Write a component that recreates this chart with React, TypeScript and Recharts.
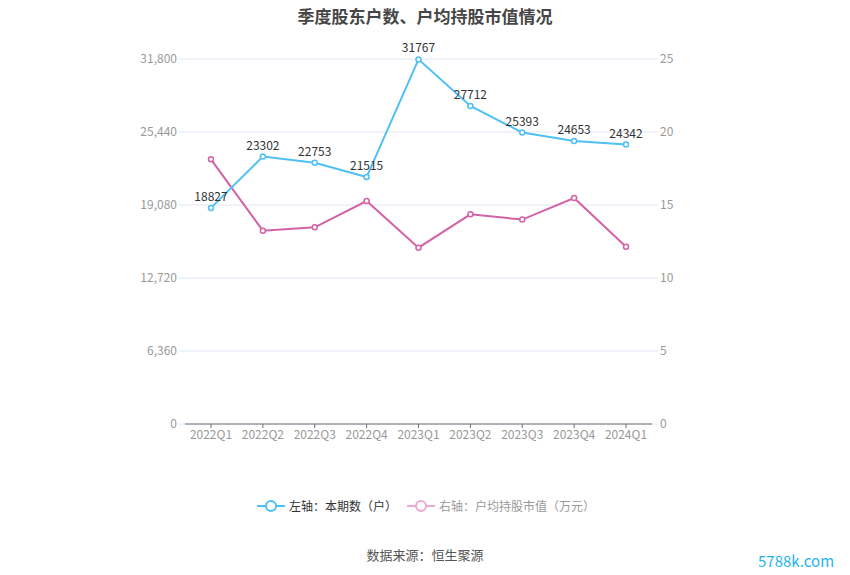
import React from 'react';
import { LineChart, Line, XAxis, YAxis, CartesianGrid, LabelList } from 'recharts';

const quarters = ['2022Q1', '2022Q2', '2022Q3', '2022Q4', '2023Q1', '2023Q2', '2023Q3', '2023Q4', '2024Q1'];
const holders = [18827, 23302, 22753, 21515, 31767, 27712, 25393, 24653, 24342];
const avgValue = [18.13, 13.24, 13.47, 15.27, 12.08, 14.36, 14.0, 15.48, 12.14];
const leftTicks = [0, 6360, 12720, 19080, 25440, 31800];
const rightTicks = [0, 5, 10, 15, 20, 25];

const data = quarters.map((q, i) => ({ q, holders: holders[i], avg: avgValue[i] }));

const BLUE = '#4fc0f5';
const PINK = '#d462a6';
const FONT = '"Microsoft YaHei", "Noto Sans CJK SC", sans-serif';

const fmt = (v: number) => v.toLocaleString('en-US');

export default function App() {
  return (
    <div style={{ position: 'absolute', left: 0, top: 0, width: 850, height: 575, fontFamily: FONT, background: '#fff' }}>
      <div style={{ position: 'absolute', top: 3, left: 0, width: 850, textAlign: 'center', fontSize: 17, fontWeight: 'bold', color: '#464646' }}>
        季度股东户数、户均持股市值情况
      </div>
      <LineChart width={850} height={575} data={data} margin={{ top: 59, right: 0, bottom: 121, left: 0 }}>
        <CartesianGrid vertical={false} stroke="#e0e6f1" yAxisId="left" />
        <XAxis
          dataKey="q"
          axisLine={{ stroke: '#6e7079' }}
          tickLine={{ stroke: '#6e7079' }}
          tickSize={4}
          height={30}
          interval={0}
          padding={{ left: 26, right: 26 }}
          tick={{ fill: '#999', fontSize: 12, fontFamily: FONT }}
        />
        <YAxis
          yAxisId="left"
          width={185}
          domain={[0, 31800]}
          ticks={leftTicks}
          tickFormatter={fmt}
          axisLine={false}
          tickLine={{ stroke: '#e0e6f1' }}
          tickSize={6}
          tick={{ fill: '#999', fontSize: 12, fontFamily: FONT }}
        />
        <YAxis
          yAxisId="right"
          orientation="right"
          width={198}
          domain={[0, 25]}
          ticks={rightTicks}
          axisLine={false}
          tickLine={{ stroke: '#e0e6f1' }}
          tickSize={6}
          tick={{ fill: '#999', fontSize: 12, fontFamily: FONT }}
        />
        <Line
          yAxisId="right"
          dataKey="avg"
          stroke={PINK}
          strokeWidth={2}
          dot={{ r: 2.5, fill: '#fff', stroke: PINK, strokeWidth: 1.5 }}
          isAnimationActive={false}
        />
        <Line
          yAxisId="left"
          dataKey="holders"
          stroke={BLUE}
          strokeWidth={2}
          dot={{ r: 2.5, fill: '#fff', stroke: BLUE, strokeWidth: 1.5 }}
          isAnimationActive={false}
        >
          <LabelList dataKey="holders" position="top" offset={7} fill="#333" fontSize={12} fontFamily={FONT} />
        </Line>
      </LineChart>
      <div style={{ position: 'absolute', top: 497, left: 0, width: 850, height: 20, fontSize: 12, color: '#333' }}>
        <svg style={{ position: 'absolute', left: 257, top: 1 }} width={28} height={16}>
          <line x1={0} y1={8} x2={28} y2={8} stroke={BLUE} strokeWidth={2} />
          <circle cx={14} cy={8} r={5} fill="#fff" stroke={BLUE} strokeWidth={2} />
        </svg>
        <span style={{ position: 'absolute', left: 289, top: 0 }}>左轴：本期数（户）</span>
        <svg style={{ position: 'absolute', left: 407, top: 1 }} width={28} height={16}>
          <line x1={0} y1={8} x2={28} y2={8} stroke="#eeaad2" strokeWidth={2} />
          <circle cx={14} cy={8} r={5} fill="#fff" stroke="#eeaad2" strokeWidth={2} />
        </svg>
        <span style={{ position: 'absolute', left: 439, top: 0, color: '#999' }}>右轴：户均持股市值（万元）</span>
      </div>
      <div style={{ position: 'absolute', top: 545, left: 0, width: 850, textAlign: 'center', fontSize: 13, color: '#555' }}>
        数据来源：恒生聚源
      </div>
      <div style={{ position: 'absolute', top: 550, left: 758, fontSize: 15, color: '#1eb4ef' }}>
        5788k.com
      </div>
    </div>
  );
}
